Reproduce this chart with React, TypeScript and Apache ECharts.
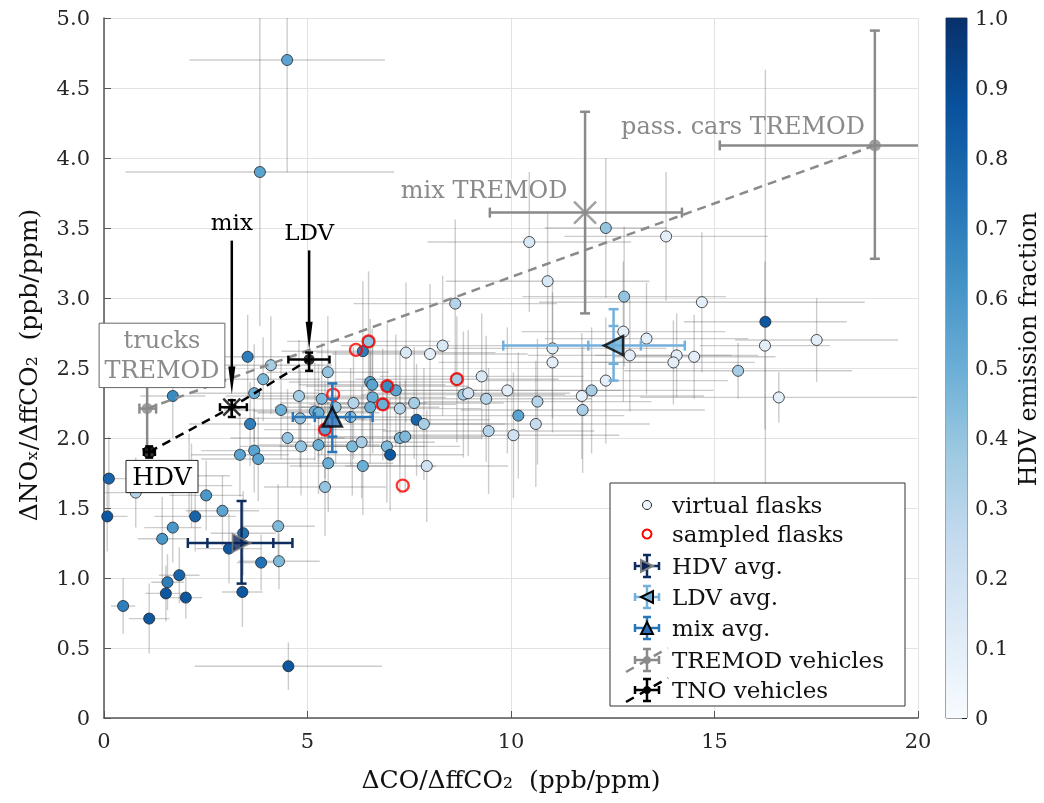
import React, { useEffect, useRef } from "react";
import * as echarts from "echarts";

const FONT = "'DejaVu Serif', serif";
const BLUES = ["#f7fbff", "#deebf7", "#c6dbef", "#9ecae1", "#6baed6", "#4292c6", "#2171b5", "#08519c", "#08306b"];

const xTicks = [0, 5, 10, 15, 20];
const yTicks = [0, 0.5, 1, 1.5, 2, 2.5, 3, 3.5, 4, 4.5, 5];
const cbTicks = [0, 0.1, 0.2, 0.3, 0.4, 0.5, 0.6, 0.7, 0.8, 0.9, 1];

// [ΔCO/ΔffCO2, ΔNOx/ΔffCO2, HDV fraction, CO error, NOx error]
const virtualFlasks = [
  [4.50, 4.70, 0.55, 2.4, 0.8], [3.83, 3.90, 0.55, 3.3, 1.1], [3.53, 2.58, 0.70, 1.2, 0.3],
  [4.10, 2.52, 0.35, 1.5, 0.35], [3.91, 2.42, 0.45, 1.4, 0.3], [3.69, 2.32, 0.50, 1.6, 0.35],
  [1.69, 2.30, 0.65, 0.8, 0.3], [3.59, 2.10, 0.70, 1.5, 0.3], [3.34, 1.88, 0.55, 1.2, 0.3],
  [3.69, 1.91, 0.55, 1.3, 0.3], [3.79, 1.85, 0.55, 1.4, 0.3], [0.12, 1.71, 0.80, 0.6, 0.3],
  [0.78, 1.61, 0.30, 0.9, 0.25], [2.09, 1.73, 0.40, 1.0, 0.3], [2.15, 1.66, 0.40, 1.0, 0.3],
  [2.51, 1.59, 0.60, 0.9, 0.25], [0.08, 1.44, 0.85, 0.5, 0.25], [2.24, 1.44, 0.80, 1.0, 0.25],
  [2.91, 1.48, 0.55, 0.9, 0.25], [1.69, 1.36, 0.60, 0.7, 0.25], [1.43, 1.28, 0.60, 0.6, 0.3],
  [4.28, 1.37, 0.45, 0.9, 0.3], [3.42, 1.32, 0.75, 0.8, 0.3], [3.07, 1.21, 0.85, 0.8, 0.25],
  [4.30, 1.12, 0.45, 1.0, 0.2], [3.86, 1.11, 0.75, 0.6, 0.2], [1.85, 1.02, 0.80, 0.5, 0.2],
  [1.56, 0.97, 0.70, 0.4, 0.2], [1.52, 0.89, 0.85, 0.5, 0.2], [2.01, 0.86, 0.85, 0.4, 0.15],
  [3.40, 0.90, 0.85, 0.5, 0.25], [0.47, 0.80, 0.70, 0.3, 0.2], [1.11, 0.71, 0.85, 0.5, 0.25],
  [4.53, 0.37, 0.85, 2.3, 0.17], [5.50, 2.47, 0.40, 1.5, 0.4], [4.79, 2.30, 0.35, 1.8, 0.4],
  [5.35, 2.28, 0.45, 1.6, 0.4], [4.35, 2.20, 0.50, 1.4, 0.35], [5.18, 2.19, 0.50, 1.5, 0.35],
  [5.27, 2.18, 0.50, 1.5, 0.35], [4.82, 2.14, 0.40, 1.6, 0.35], [6.13, 2.25, 0.30, 1.8, 0.4],
  [6.54, 2.40, 0.55, 2.0, 0.45], [6.59, 2.38, 0.55, 1.8, 0.4], [6.60, 2.29, 0.50, 1.8, 0.4],
  [6.54, 2.22, 0.50, 1.7, 0.4], [6.96, 2.37, 0.65, 2.0, 0.45], [7.17, 2.34, 0.55, 2.0, 0.4],
  [6.85, 2.24, 0.50, 1.8, 0.4], [7.27, 2.21, 0.30, 2.0, 0.4], [7.62, 2.25, 0.35, 2.2, 0.4],
  [7.68, 2.13, 0.80, 1.8, 0.4], [5.69, 2.22, 0.40, 1.5, 0.4], [5.43, 2.06, 0.55, 1.5, 0.35],
  [4.51, 2.00, 0.40, 1.4, 0.35], [4.84, 1.94, 0.40, 1.5, 0.35], [5.27, 1.95, 0.50, 1.5, 0.35],
  [6.10, 1.94, 0.45, 1.8, 0.35], [6.33, 1.97, 0.35, 1.8, 0.4], [6.95, 1.94, 0.45, 1.8, 0.4],
  [7.03, 1.88, 0.85, 1.8, 0.4], [7.27, 2.00, 0.45, 2.0, 0.4], [7.40, 2.01, 0.45, 2.0, 0.4],
  [5.51, 1.82, 0.50, 1.6, 0.35], [6.36, 1.80, 0.50, 1.8, 0.35], [5.43, 1.65, 0.40, 1.5, 0.35],
  [6.36, 2.62, 0.70, 2.0, 0.5], [6.50, 2.69, 0.40, 2.0, 0.5], [7.42, 2.61, 0.15, 2.2, 0.5],
  [6.06, 2.15, 0.40, 1.7, 0.35], [12.33, 3.50, 0.40, 1.5, 0.5], [10.45, 3.40, 0.15, 2.5, 0.5],
  [10.90, 3.12, 0.15, 2.5, 0.5], [8.63, 2.96, 0.30, 2.5, 0.6], [8.32, 2.66, 0.15, 2.5, 0.5],
  [8.01, 2.60, 0.10, 2.4, 0.5], [8.67, 2.42, 0.35, 2.5, 0.45], [9.28, 2.44, 0.15, 2.5, 0.45],
  [8.83, 2.31, 0.35, 2.5, 0.45], [8.95, 2.32, 0.20, 2.5, 0.45], [9.39, 2.28, 0.30, 2.6, 0.45],
  [9.91, 2.34, 0.10, 2.8, 0.45], [10.65, 2.26, 0.30, 2.8, 0.45], [10.18, 2.16, 0.55, 2.6, 0.45],
  [10.61, 2.10, 0.25, 2.8, 0.45], [9.45, 2.05, 0.30, 2.6, 0.45], [10.06, 2.02, 0.20, 2.6, 0.45],
  [11.02, 2.64, 0.10, 2.8, 0.5], [11.02, 2.54, 0.10, 2.8, 0.5], [11.74, 2.30, 0.10, 3.0, 0.45],
  [11.98, 2.34, 0.35, 3.0, 0.45], [11.76, 2.20, 0.35, 3.0, 0.45], [12.33, 2.41, 0.10, 3.0, 0.45],
  [7.86, 2.10, 0.35, 2.0, 0.4], [7.93, 1.80, 0.20, 2.0, 0.4], [13.81, 3.44, 0.10, 2.5, 0.46],
  [12.78, 3.01, 0.40, 2.5, 0.5], [14.69, 2.97, 0.10, 4.0, 0.5], [16.25, 2.83, 0.85, 2.0, 1.8],
  [16.24, 2.66, 0.10, 1.6, 0.6], [17.51, 2.70, 0.10, 2.0, 0.3], [12.76, 2.76, 0.10, 2.5, 0.5],
  [13.33, 2.71, 0.10, 2.5, 0.4], [12.92, 2.59, 0.10, 2.5, 0.4], [14.07, 2.59, 0.10, 2.0, 0.3],
  [13.99, 2.54, 0.10, 2.0, 0.3], [14.50, 2.58, 0.10, 2.0, 0.3], [15.58, 2.48, 0.35, 2.8, 0.2],
  [16.58, 2.29, 0.10, 3.4, 0.18],
];

// [ΔCO/ΔffCO2, ΔNOx/ΔffCO2]
const sampledFlasks = [
  [6.19, 2.63], [6.50, 2.69], [6.96, 2.37], [6.85, 2.24],
  [5.63, 2.31], [5.43, 2.06], [7.34, 1.66], [8.67, 2.42],
];

// [x, y, xLo, xHi, yLo, yHi, xLoInner, xHiInner, yLoInner, yHiInner]
const avgNames = ["HDV avg.", "LDV avg.", "mix avg."];
const avgValues = [
  [3.38, 1.25, 2.06, 4.63, 0.96, 1.55, 2.54, 4.16, null, null],
  [12.52, 2.66, 9.81, 14.27, 2.41, 2.92, 11.90, 13.19, 2.53, 2.80],
  [5.61, 2.15, 4.64, 6.60, 1.90, 2.39, 5.18, 6.04, 2.01, 2.28],
];

// TREMOD vehicles: trucks, mix, pass. cars  [x, y, xLo, xHi, yLo, yHi]
const tremodLabels = ["trucks\nTREMOD", "mix TREMOD", "pass. cars TREMOD"];
const tremodValues = [
  [1.06, 2.21, 0.87, 1.28, 1.92, 2.50],
  [11.82, 3.61, 9.48, 14.20, 2.89, 4.33],
  [18.94, 4.09, 15.13, 22.0, 3.28, 4.91],
];
// TNO vehicles: HDV, mix, LDV
const tnoLabels = ["HDV", "mix", "LDV"];
const tnoValues = [
  [1.11, 1.90, 0.98, 1.25, 1.86, 1.94],
  [3.14, 2.22, 2.85, 3.51, 2.15, 2.27],
  [5.04, 2.56, 4.53, 5.54, 2.48, 2.61],
];

// annotation anchors (data coords): label centre, arrow start y, arrow tip y
const tnoArrowMix = [3.14, 3.54, 3.41, 2.31];
const tnoArrowLdv = [5.04, 3.47, 3.34, 2.63];
const trucksBox = [-0.12, 2.82, 2.97, 2.36];
const hdvBox = [0.54, 1.84, 2.31, 1.61];
const mixTremodLabel = [9.34, 3.77];
const carsTremodLabel = [15.7, 4.23];

const GRAY = "#8a8a8a";
const avgColors = ["#0e2c5e", "#74b0dc", "#2a74b8"];

function errRender(colors: string[], width: number, cap: number) {
  return (params: any, api: any) => {
    const color = colors[params.dataIndex % colors.length];
    const x = api.value(0), y = api.value(1);
    const c = api.coord([x, y]);
    const st = { stroke: color, lineWidth: width, fill: null };
    const ch: any[] = [];
    const hl = api.coord([api.value(2), y]), hh = api.coord([api.value(3), y]);
    const vl = api.coord([x, api.value(4)]), vh = api.coord([x, api.value(5)]);
    ch.push({ type: "line", shape: { x1: hl[0], y1: c[1], x2: hh[0], y2: c[1] }, style: st });
    ch.push({ type: "line", shape: { x1: c[0], y1: vl[1], x2: c[0], y2: vh[1] }, style: st });
    if (cap > 0) {
      [hl[0], hh[0]].forEach((px) => ch.push({ type: "line", shape: { x1: px, y1: c[1] - cap, x2: px, y2: c[1] + cap }, style: st }));
      [vl[1], vh[1]].forEach((py) => ch.push({ type: "line", shape: { x1: c[0] - cap, y1: py, x2: c[0] + cap, y2: py }, style: st }));
      for (let k = 6; k <= 7; k++) {
        const v = api.value(k);
        if (isFinite(v)) { const p = api.coord([v, y]); ch.push({ type: "line", shape: { x1: p[0], y1: c[1] - cap, x2: p[0], y2: c[1] + cap }, style: st }); }
      }
      for (let k = 8; k <= 9; k++) {
        const v = api.value(k);
        if (isFinite(v)) { const p = api.coord([x, v]); ch.push({ type: "line", shape: { x1: c[0] - cap, y1: p[1], x2: c[0] + cap, y2: p[1] }, style: st }); }
      }
    }
    return { type: "group", children: ch };
  };
}

export default function App() {
  const ref = useRef<HTMLDivElement>(null);
  useEffect(() => {
    const chart = echarts.init(ref.current!, null, { renderer: "svg" });
    const axisLabelStyle = { fontFamily: FONT, fontSize: 21, color: "#262626" };
    const option: any = {
      animation: false,
      grid: [
        { left: 104, top: 18, width: 814, height: 700 },
        { left: 946, top: 18, width: 21, height: 700, show: true, borderColor: "#444", borderWidth: 1, backgroundColor: "transparent" },
      ],
      xAxis: [
        {
          gridIndex: 0, type: "value", min: xTicks[0], max: xTicks[xTicks.length - 1], interval: 5,
          axisLine: { lineStyle: { color: "#555", width: 1.5 } },
          axisTick: { inside: true, length: 7, lineStyle: { color: "#555" } },
          axisLabel: { ...axisLabelStyle, margin: 12 },
          splitLine: { show: true, lineStyle: { color: "#e2e2e2", width: 1 } },
        },
        { gridIndex: 1, type: "category", data: [""], show: false },
      ],
      yAxis: [
        {
          gridIndex: 0, type: "value", min: yTicks[0], max: yTicks[yTicks.length - 1], interval: 0.5,
          axisLine: { show: true, lineStyle: { color: "#555", width: 1.5 } },
          axisTick: { show: true, inside: true, length: 7, lineStyle: { color: "#555" } },
          axisLabel: { ...axisLabelStyle, margin: 14, formatter: (v: number) => (v === 0 ? "0" : v.toFixed(1)) },
          splitLine: { show: true, lineStyle: { color: "#e2e2e2", width: 1 } },
        },
        {
          gridIndex: 1, type: "value", min: cbTicks[0], max: cbTicks[cbTicks.length - 1], interval: 0.1, position: "right",
          axisLine: { show: false },
          axisTick: { show: true, inside: true, length: 5, lineStyle: { color: "#222" } },
          axisLabel: { ...axisLabelStyle, margin: 8, formatter: (v: number) => (v === 0 ? "0" : v.toFixed(1)) },
          splitLine: { show: false },
        },
      ],
      visualMap: {
        type: "continuous", show: false, min: 0, max: 1, dimension: 2, seriesIndex: 1,
        inRange: { color: BLUES },
      },
      series: [
        {
          type: "custom", xAxisIndex: 0, yAxisIndex: 0, z: 1, clip: true, silent: true,
          renderItem: errRender(["rgba(95,95,95,0.32)"], 1.4, 0),
          encode: { x: 0, y: 1 },
          data: virtualFlasks.map((d) => [d[0], d[1], d[0] - d[3], d[0] + d[3], d[1] - d[4], d[1] + d[4]]),
        },
        {
          name: "virtual flasks", type: "scatter", z: 3, symbol: "circle", symbolSize: 11,
          itemStyle: { borderColor: "#1e1e1e", borderWidth: 0.8, opacity: 1 },
          data: virtualFlasks.map((d) => [d[0], d[1], d[2]]),
        },
        {
          name: "sampled flasks", type: "scatter", z: 4, symbol: "circle", symbolSize: 12,
          itemStyle: { color: "rgba(0,0,0,0)", borderColor: "#ff0000", borderWidth: 2.2 },
          data: sampledFlasks,
        },
        {
          type: "line", z: 5, symbol: "none", silent: true,
          lineStyle: { color: GRAY, width: 2.5, type: [9, 6] },
          data: [tremodValues[0].slice(0, 2), tremodValues[2].slice(0, 2)],
        },
        {
          type: "line", z: 5, symbol: "none", silent: true,
          lineStyle: { color: "#000", width: 2.5, type: [9, 6] },
          data: tnoValues.map((d) => d.slice(0, 2)),
        },
        {
          type: "custom", z: 6, clip: true, silent: true, encode: { x: 0, y: 1 },
          renderItem: errRender([GRAY], 2.5, 5), data: tremodValues,
        },
        {
          type: "scatter", z: 7, silent: true,
          data: [
            { value: tremodValues[0].slice(0, 2), symbol: "circle", symbolSize: 11, itemStyle: { color: GRAY } },
            { value: tremodValues[1].slice(0, 2), symbol: "path://M0,0L1,1M1,0L0,1", symbolSize: 22, itemStyle: { color: "rgba(0,0,0,0)", borderColor: GRAY, borderWidth: 2.5 } },
            { value: tremodValues[2].slice(0, 2), symbol: "circle", symbolSize: 12, itemStyle: { color: GRAY } },
          ],
        },
        {
          type: "custom", z: 8, clip: true, silent: true, encode: { x: 0, y: 1 },
          renderItem: errRender(["#000"], 2.5, 4), data: tnoValues,
        },
        {
          type: "scatter", z: 9, silent: true,
          data: [
            { value: tnoValues[0].slice(0, 2), symbol: "roundRect", symbolSize: 11, itemStyle: { color: "#000" } },
            { value: tnoValues[1].slice(0, 2), symbol: "path://M0,0L1,1M1,0L0,1M0.5,0L0.5,1M0,0.5L1,0.5", symbolSize: 17, itemStyle: { color: "rgba(0,0,0,0)", borderColor: "#000", borderWidth: 2.5 } },
            { value: tnoValues[2].slice(0, 2), symbol: "circle", symbolSize: 11, itemStyle: { color: "#000" } },
          ],
        },
        {
          type: "custom", z: 10, clip: true, silent: true, encode: { x: 0, y: 1 },
          renderItem: errRender(avgColors, 2.5, 5),
          data: avgValues.map((d) => d.map((v) => (v === null ? NaN : v))),
        },
        {
          type: "scatter", z: 11, silent: true,
          data: [
            { name: avgNames[0], value: avgValues[0].slice(0, 2), symbol: "triangle", symbolRotate: -90, symbolSize: 18, itemStyle: { color: "#0a2456", borderColor: "#808080", borderWidth: 1.8 } },
            { name: avgNames[1], value: avgValues[1].slice(0, 2), symbol: "triangle", symbolRotate: 90, symbolSize: 19, itemStyle: { color: "#6aaed6", borderColor: "#000", borderWidth: 2.5 } },
            { name: avgNames[2], value: avgValues[2].slice(0, 2), symbol: "triangle", symbolSize: 19, itemStyle: { color: "#2a6fb5", borderColor: "#000", borderWidth: 2.5 } },
          ],
        },
        {
          type: "bar", xAxisIndex: 1, yAxisIndex: 1, barWidth: "100%", silent: true,
          itemStyle: {
            color: new echarts.graphic.LinearGradient(0, 1, 0, 0, BLUES.map((c, i) => ({ offset: i / (BLUES.length - 1), color: c }))),
          },
          data: [cbTicks[cbTicks.length - 1]],
        },
      ],
    };
    chart.setOption(option);

    const P = (x: number, y: number) => chart.convertToPixel({ gridIndex: 0 }, [x, y]) as number[];
    const txt = (x: number, y: number, text: string, size: number, color: string, extra: any = {}) => ({
      type: "text", x, y, z: 50,
      style: { text, fontFamily: FONT, fontSize: size, fill: color, align: "center", verticalAlign: "middle", ...extra },
    });
    const arrow = (a: number[]) => {
      const t = P(a[0], a[1]); const s = P(a[0], a[2]); const e = P(a[0], a[3]);
      return [
        txt(t[0], t[1], a === tnoArrowMix ? tnoLabels[1] : tnoLabels[2], 23, "#000"),
        { type: "line", z: 50, shape: { x1: s[0], y1: s[1], x2: e[0], y2: e[1] - 24 }, style: { stroke: "#000", lineWidth: 2.5 } },
        { type: "polygon", z: 50, shape: { points: [[e[0] - 3.5, e[1] - 28], [e[0] + 3.5, e[1] - 28], [e[0], e[1]]] }, style: { fill: "#000" } },
      ];
    };
    const box = (b: number[], text: string, color: string, border: string, size: number) => {
      const a = P(b[0], b[1]); const c = P(b[2], b[3]);
      return [
        { type: "rect", z: 45, shape: { x: a[0], y: a[1], width: c[0] - a[0], height: c[1] - a[1] }, style: { fill: "#fff", stroke: border, lineWidth: 1 } },
        txt((a[0] + c[0]) / 2, (a[1] + c[1]) / 2, text, size, color, { lineHeight: 30 }),
      ];
    };
    const mt = P(mixTremodLabel[0], mixTremodLabel[1]);
    const ct = P(carsTremodLabel[0], carsTremodLabel[1]);

    // legend
    const LX = 647, TX = 672;
    const LY = [505, 534, 566, 597, 628, 660, 690];
    const legendText = ["virtual flasks", "sampled flasks", avgNames[0], avgNames[1], avgNames[2], "TREMOD vehicles", "TNO vehicles"];
    const cross = (cy: number, color: string) => {
      const st = { stroke: color, lineWidth: 2.5 };
      return [
        { type: "line", z: 61, shape: { x1: LX - 12, y1: cy, x2: LX + 12, y2: cy }, style: st },
        { type: "line", z: 61, shape: { x1: LX, y1: cy - 11, x2: LX, y2: cy + 11 }, style: st },
        { type: "line", z: 61, shape: { x1: LX - 12, y1: cy - 4, x2: LX - 12, y2: cy + 4 }, style: st },
        { type: "line", z: 61, shape: { x1: LX + 12, y1: cy - 4, x2: LX + 12, y2: cy + 4 }, style: st },
        { type: "line", z: 61, shape: { x1: LX - 4, y1: cy - 11, x2: LX + 4, y2: cy - 11 }, style: st },
        { type: "line", z: 61, shape: { x1: LX - 4, y1: cy + 11, x2: LX + 4, y2: cy + 11 }, style: st },
      ];
    };
    const tri = (cy: number, dir: string, fill: string, stroke: string) => {
      const s = 6;
      const pts = dir === "r" ? [[LX - s, cy - s], [LX - s, cy + s], [LX + s, cy]]
        : dir === "l" ? [[LX + s, cy - s], [LX + s, cy + s], [LX - s, cy]]
        : [[LX - s, cy + s], [LX + s, cy + s], [LX, cy - s]];
      return { type: "polygon", z: 62, shape: { points: pts }, style: { fill, stroke, lineWidth: 2 } };
    };
    const legend: any[] = [
      { type: "rect", z: 60, shape: { x: 610, y: 483, width: 295, height: 223 }, style: { fill: "#fff", stroke: "#333", lineWidth: 1 } },
      { type: "circle", z: 61, shape: { cx: LX, cy: LY[0], r: 4.5 }, style: { fill: "#eef4fb", stroke: "#222", lineWidth: 1 } },
      { type: "circle", z: 61, shape: { cx: LX, cy: LY[1], r: 4.5 }, style: { fill: "none", stroke: "#ff0000", lineWidth: 2 } },
      ...cross(LY[2], avgColors[0]), tri(LY[2], "r", "#0a2456", "#808080"),
      ...cross(LY[3], avgColors[1]), tri(LY[3], "l", "#6aaed6", "#000"),
      ...cross(LY[4], avgColors[2]), tri(LY[4], "u", "#2a6fb5", "#000"),
      { type: "line", z: 61, shape: { x1: 626, y1: LY[5] + 12, x2: 668, y2: LY[5] - 12 }, style: { stroke: GRAY, lineWidth: 2.5, lineDash: [9, 7] } },
      ...cross(LY[5], GRAY), { type: "circle", z: 62, shape: { cx: LX, cy: LY[5], r: 4 }, style: { fill: GRAY } },
      { type: "line", z: 61, shape: { x1: 626, y1: LY[6] + 12, x2: 668, y2: LY[6] - 12 }, style: { stroke: "#000", lineWidth: 2.5, lineDash: [9, 7] } },
      ...cross(LY[6], "#000"), { type: "circle", z: 62, shape: { cx: LX, cy: LY[6], r: 4 }, style: { fill: "#000" } },
      ...legendText.map((t, i) => ({ type: "text", z: 63, x: TX, y: LY[i], style: { text: t, fontFamily: FONT, fontSize: 23, fill: "#111", align: "left", verticalAlign: "middle" } })),
    ];

    chart.setOption({
      graphic: [
        ...arrow(tnoArrowMix),
        ...arrow(tnoArrowLdv),
        ...box(trucksBox, tremodLabels[0], GRAY, "#666", 24),
        ...box(hdvBox, tnoLabels[0], "#000", "#222", 25),
        txt(mt[0], mt[1], tremodLabels[1], 24, GRAY),
        txt(ct[0], ct[1], tremodLabels[2], 24, GRAY),
        ...legend,
        txt(511, 779, "ΔCO/ΔffCO₂  (ppb/ppm)", 25, "#111"),
        { type: "text", x: 28, y: 365, rotation: Math.PI / 2, z: 50, style: { text: "ΔNOₓ/ΔffCO₂  (ppb/ppm)", fontFamily: FONT, fontSize: 25, fill: "#111", align: "center", verticalAlign: "middle" } },
        { type: "text", x: 1028, y: 349, rotation: Math.PI / 2, z: 50, style: { text: "HDV emission fraction", fontFamily: FONT, fontSize: 24, fill: "#111", align: "center", verticalAlign: "middle" } },
      ],
    });
    return () => chart.dispose();
  }, []);
  return <div ref={ref} style={{ position: "fixed", left: 0, top: 0, width: 1044, height: 803 }} />;
}
